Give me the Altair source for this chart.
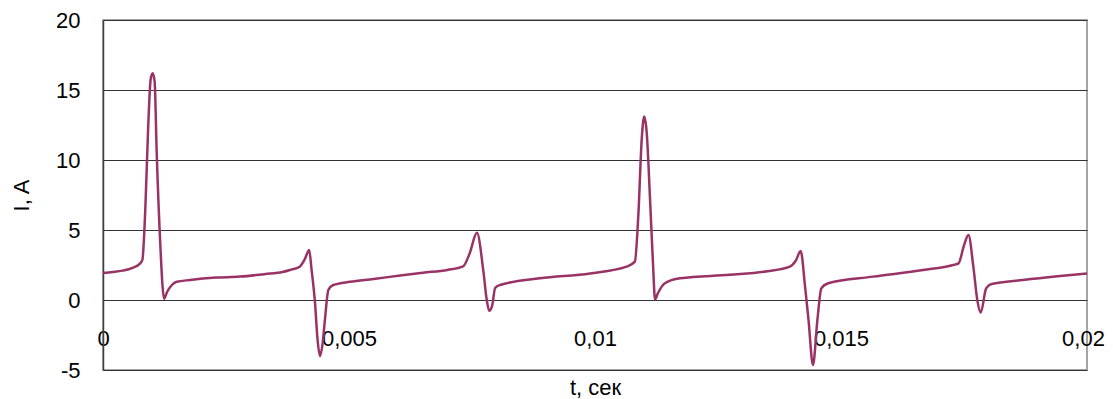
import altair as alt
import pandas as pd

t_vals = [
    0.0, 0.0002, 0.0004, 0.0006, 0.00075, 0.00080, 0.00086, 0.00092, 0.00097, 0.00101,
    0.00105, 0.00109, 0.00117, 0.00121, 0.00124, 0.00130, 0.00140, 0.00150, 0.00177, 0.00230,
    0.00278, 0.00330, 0.00365, 0.00380, 0.00400, 0.00410, 0.00419, 0.00424, 0.00431, 0.00436,
    0.00441, 0.00446, 0.00451, 0.00458, 0.00468, 0.00502, 0.00550, 0.00604, 0.00650, 0.00700,
    0.00732, 0.00745, 0.00760, 0.00773, 0.00780, 0.00785, 0.00791, 0.00797, 0.00807, 0.00888,
    0.00990, 0.01064, 0.01081, 0.01088, 0.01095, 0.01100, 0.01105, 0.01112, 0.01118, 0.01122,
    0.01128, 0.01142, 0.01173, 0.01274, 0.01350, 0.01396, 0.01408, 0.01418, 0.01427, 0.01434,
    0.01443, 0.01452, 0.01460, 0.01474, 0.01565, 0.01667, 0.01728, 0.01739, 0.01750, 0.01759,
    0.01769, 0.01777, 0.01784, 0.01795, 0.01806, 0.01870, 0.01940, 0.02000,
]
i_vals = [
    1.93, 2.0, 2.1, 2.3, 2.6, 2.86, 6.5, 12.5, 15.8, 16.2,
    15.6, 10.7, 3.57, 1.0, 0.08, 0.55, 1.07, 1.3, 1.43, 1.6,
    1.67, 1.85, 2.0, 2.14, 2.38, 2.9, 3.57, 2.14, -0.24, -2.8,
    -4.0, -3.2, -1.43, 0.71, 1.07, 1.3, 1.5, 1.75, 1.95, 2.15,
    2.4, 3.3, 4.8, 2.1, 0.0, -0.77, -0.4, 0.86, 1.07, 1.55,
    1.9, 2.38, 2.74, 6.0, 11.5, 13.1, 12.0, 7.1, 2.5, 0.05,
    0.5, 1.2, 1.55, 1.8, 2.05, 2.38, 2.8, 3.5, 0.95, -1.43,
    -4.64, -1.43, 0.83, 1.2, 1.67, 2.14, 2.5, 2.62, 3.9, 4.64,
    2.38, 0.0, -0.9, 0.83, 1.14, 1.43, 1.7, 1.9,
]

y_ticks = [-5, 0, 5, 10, 15, 20]
x_ticks = [0, 0.005, 0.01, 0.015, 0.02]

df = pd.DataFrame({"t": t_vals, "I": i_vals})

x_label_expr = "datum.value == 0 ? '0' : replace(format(datum.value, '.3~f'), '.', ',')"
y_label_expr = "'' + datum.value"

FONT = "Liberation Sans"

chart = (
    alt.Chart(df)
    .mark_line(color="#993366", strokeWidth=2.5, interpolate="monotone")
    .encode(
        x=alt.X(
            "t:Q",
            scale=alt.Scale(domain=[0, 0.02], nice=False, zero=False),
            axis=alt.Axis(
                title="t, сек",
                values=x_ticks,
                labelExpr=x_label_expr,
                offset=-70,
                domain=False,
                ticks=False,
                grid=False,
                labelPadding=28,
                labelFontSize=22,
                labelFont=FONT,
                labelColor="#000000",
                labelFlush=False,
                labelOffset={"condition": {"test": "datum.value >= 0.0199", "value": -4}, "value": 0},
                titleFontSize=22,
                titleFont=FONT,
                titleFontWeight="normal",
                titleColor="#000000",
                titlePadding=28,
            ),
        ),
        y=alt.Y(
            "I:Q",
            scale=alt.Scale(domain=[-5, 20], nice=False),
            axis=alt.Axis(
                title="I, A",
                values=y_ticks,
                labelExpr=y_label_expr,
                ticks=False,
                grid=True,
                gridColor="#333333",
                gridWidth=1.2,
                gridOpacity=1,
                domainColor="#404040",
                domainWidth=1.5,
                labelPadding=23,
                labelFontSize=22,
                labelFont=FONT,
                labelColor="#000000",
                titleFontSize=22,
                titleFont=FONT,
                titleFontWeight="normal",
                titleColor="#000000",
                titlePadding=22,
            ),
        ),
    )
    .properties(
        width=984,
        height=350,
        autosize=alt.AutoSizeParams(type="none"),
        padding={"left": 95, "top": 12, "right": 18, "bottom": 30},
    )
    .configure_view(stroke="#888888", strokeWidth=1.5)
)

chart.save("out.html", embed_options={"renderer": "svg", "actions": False})
